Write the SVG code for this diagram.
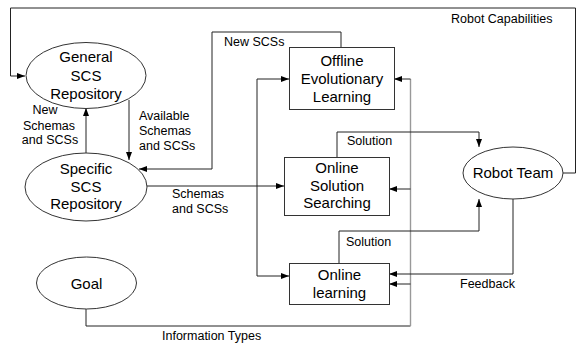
<svg xmlns="http://www.w3.org/2000/svg" width="576" height="346" viewBox="0 0 576 346">
  <style>
    .shape { fill: #fff; stroke: #333; stroke-width: 1; }
    .wire { fill: none; stroke: #222; stroke-width: 1; }
    .wire-grey { fill: none; stroke: #999; stroke-width: 1.4; }
    .label { font-family: "Comic Sans MS", "Liberation Sans", sans-serif; font-size: 12.5px; fill: #000; }
    .node-text { font-family: "Comic Sans MS", "Liberation Sans", sans-serif; font-size: 15px; fill: #000; text-anchor: middle; }
  </style>
  <defs>
    <marker id="arrow" viewBox="0 0 8 6" refX="8" refY="3" markerWidth="8" markerHeight="6" markerUnits="userSpaceOnUse" orient="auto">
      <path d="M0,0 L8,3 L0,6 Z" fill="#000"/>
    </marker>
  </defs>

  <rect width="576" height="346" fill="#fff"/>

  <g id="connectors">
    <!-- Robot capabilities loop back to the general repository -->
    <path class="wire" d="M563,173 H575.5 V8 H10.5 V76 H25" marker-end="url(#arrow)"/>
    <!-- Specific -> General (new schemas) -->
    <path class="wire" d="M86,153 V108" marker-end="url(#arrow)"/>
    <!-- General -> Specific (available schemas) -->
    <path class="wire" d="M129,100 V160" marker-end="url(#arrow)"/>
    <!-- Offline learning -> Specific (new SCSs) -->
    <path class="wire" d="M341,47 V32 H212 V169 H139" marker-end="url(#arrow)"/>
    <!-- Specific -> online solution searching -->
    <path class="wire" d="M147,186 H284" marker-end="url(#arrow)"/>
    <!-- Schemas branch to offline and online learning -->
    <path class="wire" d="M257,276 V79 H289" marker-end="url(#arrow)"/>
    <path class="wire" d="M257,276 H289" marker-end="url(#arrow)"/>
    <!-- Goal information types bus -->
    <path class="wire" d="M86,309 V326 H410.5"/>
    <path class="wire-grey" d="M410.5,326 V79"/>
    <path class="wire" d="M410.5,79 H394" marker-end="url(#arrow)"/>
    <path class="wire" d="M410.5,189 H389" marker-end="url(#arrow)"/>
    <path class="wire" d="M410.5,284 H389" marker-end="url(#arrow)"/>
    <!-- Solutions to robot team -->
    <path class="wire" d="M337,157 V132 H479 V147" marker-end="url(#arrow)"/>
    <path class="wire" d="M339,263 V231 H479 V199" marker-end="url(#arrow)"/>
    <!-- Feedback from robot team -->
    <path class="wire" d="M513,199 V274 H389" marker-end="url(#arrow)"/>
  </g>

  <g id="connector-labels">
    <text class="label" x="451" y="23">Robot Capabilities</text>
    <text class="label" x="224" y="46">New SCSs</text>
    <text class="label" x="139" y="120">Available</text>
    <text class="label" x="139" y="135">Schemas</text>
    <text class="label" x="139" y="150">and SCSs</text>
    <text class="label" x="45" y="114" text-anchor="middle">New</text>
    <text class="label" x="49" y="130" text-anchor="middle">Schemas</text>
    <text class="label" x="50" y="144" text-anchor="middle">and SCSs</text>
    <text class="label" x="172" y="198">Schemas</text>
    <text class="label" x="172" y="213">and SCSs</text>
    <text class="label" x="347" y="145">Solution</text>
    <text class="label" x="346" y="246">Solution</text>
    <text class="label" x="460" y="288">Feedback</text>
    <text class="label" x="162" y="340">Information Types</text>
  </g>

  <g id="general-repository">
    <ellipse class="shape" cx="86" cy="75.5" rx="60" ry="33"/>
    <text class="node-text" x="86" y="62">General</text>
    <text class="node-text" x="86" y="81">SCS</text>
    <text class="node-text" x="86" y="99">Repository</text>
  </g>

  <g id="specific-repository">
    <ellipse class="shape" cx="86" cy="187" rx="61" ry="34"/>
    <text class="node-text" x="86" y="174">Specific</text>
    <text class="node-text" x="86" y="192">SCS</text>
    <text class="node-text" x="86" y="209">Repository</text>
  </g>

  <g id="goal">
    <ellipse class="shape" cx="86.5" cy="283" rx="50" ry="26"/>
    <text class="node-text" x="86.5" y="289">Goal</text>
  </g>

  <g id="offline-learning">
    <rect class="shape" x="289.5" y="47.5" width="105" height="62"/>
    <text class="node-text" x="342" y="66">Offline</text>
    <text class="node-text" x="342" y="84">Evolutionary</text>
    <text class="node-text" x="342" y="102">Learning</text>
  </g>

  <g id="online-solution-searching">
    <rect class="shape" x="284.5" y="157.5" width="105" height="58"/>
    <text class="node-text" x="337" y="173">Online</text>
    <text class="node-text" x="337" y="191">Solution</text>
    <text class="node-text" x="337" y="208">Searching</text>
  </g>

  <g id="online-learning">
    <rect class="shape" x="289.5" y="263.5" width="100" height="41"/>
    <text class="node-text" x="339.5" y="280">Online</text>
    <text class="node-text" x="339.5" y="298">learning</text>
  </g>

  <g id="robot-team">
    <ellipse class="shape" cx="513" cy="173" rx="50" ry="26"/>
    <text class="node-text" x="513" y="178">Robot Team</text>
  </g>
</svg>
